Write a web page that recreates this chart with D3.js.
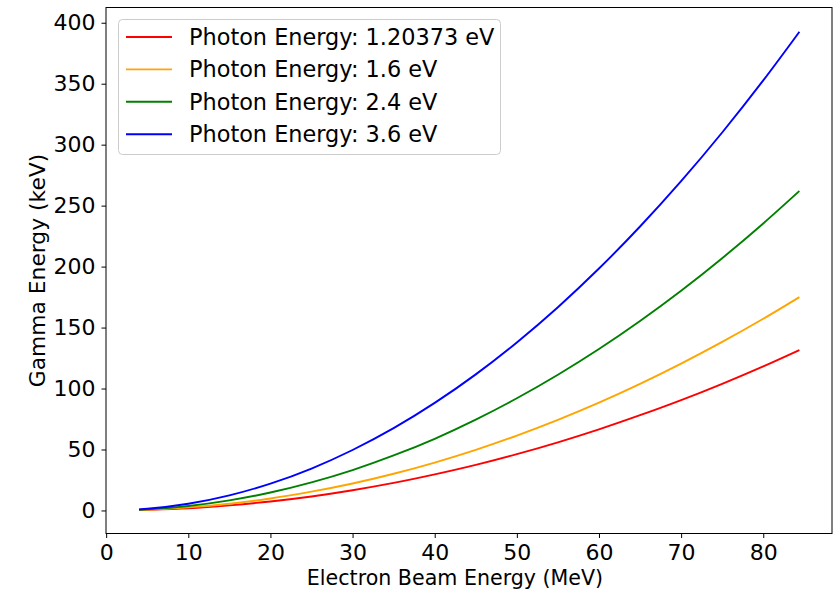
<!DOCTYPE html>
<html>
<head>
<meta charset="utf-8">
<script src="https://cdn.jsdelivr.net/npm/d3@7"></script>
<style>
  html, body { margin: 0; padding: 0; background: #fff; }
  svg { display: block; font-family: "DejaVu Sans", sans-serif; }
</style>
</head>
<body>
<svg id="chart" width="833" height="589"></svg>
<script>
// Electron beam energy (MeV) at which each curve is sampled
const beamEnergy = [4, 5, 10, 15, 20, 25, 30, 35, 40, 45, 50, 55, 60, 65, 70, 75, 80, 84.4];

// Scattered gamma energy (keV) for each laser photon energy
const gamma120373 = [0.3, 0.5, 1.8, 4.2, 7.4, 11.5, 16.6, 22.6, 29.6, 37.4, 46.2, 55.9, 66.5, 78.1, 90.5, 103.9, 118.2, 131.6];
const gamma16     = [0.4, 0.6, 2.5, 5.5, 9.8, 15.4, 22.1, 30.1, 39.3, 49.7, 61.4, 74.3, 88.4, 103.8, 120.4, 138.2, 157.2, 175.0];
const gamma24     = [0.6, 0.9, 3.7, 8.3, 14.7, 23.0, 33.1, 45.1, 58.8, 74.5, 92.0, 111.3, 132.4, 155.4, 180.2, 206.9, 235.4, 262.0];
const gamma36     = [0.9, 1.4, 5.5, 12.4, 22.0, 34.4, 49.6, 67.5, 88.2, 111.6, 137.8, 166.7, 198.4, 232.9, 270.1, 310.0, 352.7, 392.6];

const seriesNames = [
  "Photon Energy: 1.20373 eV",
  "Photon Energy: 1.6 eV",
  "Photon Energy: 2.4 eV",
  "Photon Energy: 3.6 eV"
];
const seriesValues = [gamma120373, gamma16, gamma24, gamma36];
const seriesColors = ["#ff0000", "#ffa500", "#008000", "#0000ff"];

const xTicks = [0, 10, 20, 30, 40, 50, 60, 70, 80];
const yTicks = [0, 50, 100, 150, 200, 250, 300, 350, 400];

const svg = d3.select("#chart");
const plot = { left: 106, right: 832, top: 7.5, bottom: 533.5 };

const x = d3.scaleLinear().domain([-0.02, 88.37]).range([plot.left, plot.right]);
const y = d3.scaleLinear().domain([-18.9, 412.5]).range([plot.bottom, plot.top]);

// Axes
const xAxis = svg.append("g")
  .attr("transform", `translate(0,${plot.bottom})`)
  .call(d3.axisBottom(x).tickValues(xTicks).tickSize(4.5).tickPadding(6).tickFormat(d3.format("d")));
const yAxis = svg.append("g")
  .attr("transform", `translate(${plot.left},0)`)
  .call(d3.axisLeft(y).tickValues(yTicks).tickSize(4.5).tickPadding(6).tickFormat(d3.format("d")));

[xAxis, yAxis].forEach(g => {
  g.select(".domain").remove();
  g.selectAll(".tick line").attr("stroke", "#000").attr("stroke-width", 1);
  g.selectAll(".tick text")
    .attr("fill", "#000")
    .style("font-family", "'DejaVu Sans', sans-serif")
    .style("font-size", "22px");
});

// Series lines
const line = d3.line()
  .x((d, i) => x(beamEnergy[i]))
  .y(d => y(d))
  .curve(d3.curveMonotoneX);

seriesValues.forEach((vals, k) => {
  svg.append("path")
    .datum(vals)
    .attr("fill", "none")
    .attr("stroke", seriesColors[k])
    .attr("stroke-width", 1.9)
    .attr("d", line);
});

// Frame
svg.append("rect")
  .attr("x", plot.left).attr("y", plot.top)
  .attr("width", plot.right - plot.left).attr("height", plot.bottom - plot.top)
  .attr("fill", "none").attr("stroke", "#000").attr("stroke-width", 1);

// Axis titles
svg.append("text")
  .attr("x", 455).attr("y", 585)
  .attr("text-anchor", "middle")
  .style("font-size", "20.6px")
  .attr("fill", "#000")
  .text("Electron Beam Energy (MeV)");

svg.append("text")
  .attr("transform", "translate(45,270.5) rotate(-90)")
  .attr("text-anchor", "middle")
  .style("font-size", "21.8px")
  .attr("fill", "#000")
  .text("Gamma Energy (keV)");

// Legend
const legend = svg.append("g");
legend.append("rect")
  .attr("x", 118.5).attr("y", 19.5)
  .attr("width", 382).attr("height", 135)
  .attr("rx", 4).attr("ry", 4)
  .attr("fill", "#fff").attr("fill-opacity", 0.8)
  .attr("stroke", "#cccccc").attr("stroke-width", 1);

seriesNames.forEach((name, k) => {
  const cy = 37 + k * 32.4;
  legend.append("line")
    .attr("x1", 126).attr("x2", 172)
    .attr("y1", cy).attr("y2", cy)
    .attr("stroke", seriesColors[k]).attr("stroke-width", 1.9);
  legend.append("text")
    .attr("x", 189).attr("y", cy + 8)
    .style("font-size", "22.4px")
    .attr("fill", "#000")
    .text(name);
});
</script>
</body>
</html>
